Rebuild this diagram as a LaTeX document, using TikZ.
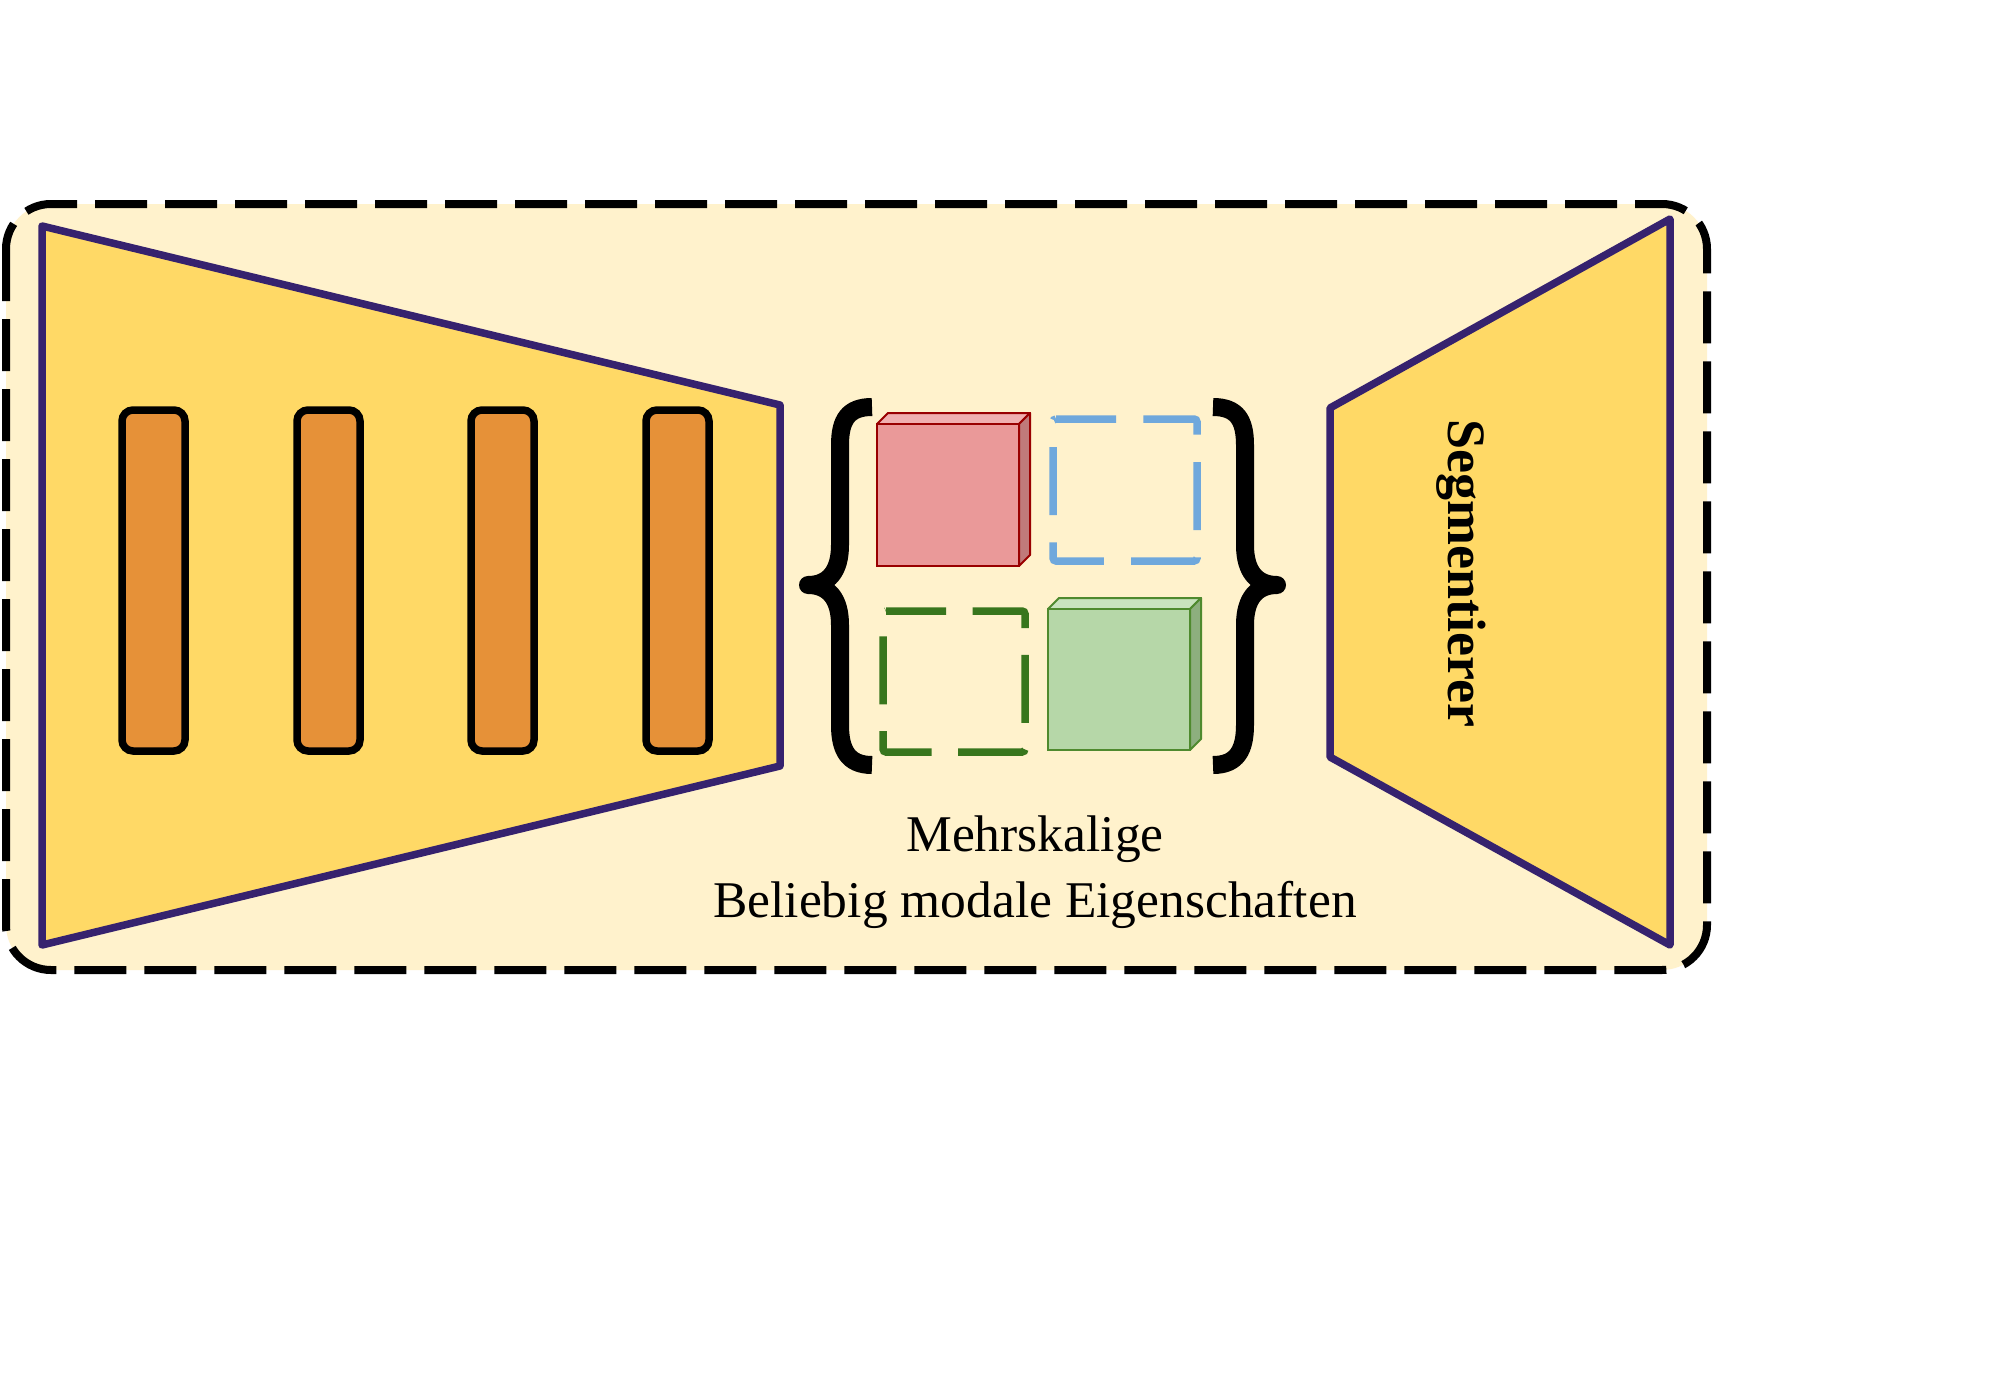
\documentclass[tikz,border=0pt]{standalone}
\usepackage{fontspec}
\setmainfont{Liberation Serif}
\begin{document}
\begin{tikzpicture}[x=1pt,y=-1pt,
  trap/.style={draw=trapline,fill=trapfill,line width=7.5pt,line join=round},
  bar/.style={draw=black,fill=barfill,line width=7.5pt,rounded corners=11pt},
  brace/.style={draw=black,line width=18pt,line join=round},
  dbox/.style={line width=7.5pt,rounded corners=3pt},
  lbl/.style={font=\fontsize{51.5pt}{60pt}\selectfont,inner sep=0pt,anchor=base}]
\definecolor{cream}{HTML}{FFF2CC}
\definecolor{trapfill}{HTML}{FFD966}
\definecolor{trapline}{HTML}{36226E}
\definecolor{barfill}{HTML}{E69138}
\definecolor{redf}{HTML}{EA9999}
\definecolor{redt}{HTML}{F0B0B0}
\definecolor{reds}{HTML}{C07A7A}
\definecolor{redl}{HTML}{990000}
\definecolor{grnf}{HTML}{B6D7A8}
\definecolor{grnt}{HTML}{C9E3BE}
\definecolor{grns}{HTML}{8DAF7E}
\definecolor{grnl}{HTML}{4F8A2E}
\definecolor{bluedash}{HTML}{6FA8DC}
\definecolor{greendash}{HTML}{38761D}
\useasboundingbox[fill=white] (0,0) rectangle (1998,1400);
% outer dashed container
\draw[fill=cream,line width=8pt,dash pattern=on 52pt off 18pt,rounded corners=45pt] (6,204) rectangle (1707,970);
% encoder trapezoid
\draw[trap] (42,226) -- (780,405) -- (780,766) -- (42,945) -- cycle;
% bars
\foreach \x in {122,297,471,646}
  \draw[bar] (\x,410) rectangle ++(63,341);
% braces
\draw[brace] (872,407) .. controls (848,407) and (840,420) .. (840,445) -- (840,545) .. controls (840,572) and (828,585) .. (808,585)
  .. controls (828,585) and (840,598) .. (840,625) -- (840,725) .. controls (840,750) and (848,765) .. (872,765);
\draw[brace] (1213,407) .. controls (1237,407) and (1245,420) .. (1245,445) -- (1245,545) .. controls (1245,572) and (1257,585) .. (1277,585)
  .. controls (1257,585) and (1245,598) .. (1245,625) -- (1245,725) .. controls (1245,750) and (1237,765) .. (1213,765);
% red cube
\draw[draw=redl,fill=redt,line width=2pt,line join=round] (877,424) -- (888,413) -- (1030,413) -- (1019,424) -- cycle;
\draw[draw=redl,fill=reds,line width=2pt,line join=round] (1019,424) -- (1030,413) -- (1030,555) -- (1019,566) -- cycle;
\draw[draw=redl,fill=redf,line width=2pt] (877,424) rectangle (1019,566);
% blue dashed
\draw[dbox,draw=bluedash,dash pattern=on 68pt off 27.33pt,dash phase=8pt] (1053,419) -- (1197,419) -- (1197,561) -- (1053,561) -- cycle;
% green dashed
\draw[dbox,draw=greendash,dash pattern=on 68pt off 26.67pt,dash phase=8pt] (883,611) -- (1025,611) -- (1025,752) -- (883,752) -- cycle;
% green cube
\draw[draw=grnl,fill=grnt,line width=2pt,line join=round] (1048,609) -- (1059,598) -- (1201,598) -- (1190,609) -- cycle;
\draw[draw=grnl,fill=grns,line width=2pt,line join=round] (1190,609) -- (1201,598) -- (1201,739) -- (1190,750) -- cycle;
\draw[draw=grnl,fill=grnf,line width=2pt] (1048,609) rectangle (1190,750);
% decoder trapezoid
\draw[trap] (1330,408) -- (1670,219) -- (1670,945) -- (1330,757) -- cycle;
\node[font=\fontsize{54pt}{60pt}\selectfont\bfseries,rotate=-90,inner sep=0pt] (seg) at (1461,573) {Segmentierer};
% caption
\node[lbl] (cap1) at (1035,851) {Mehrskalige};
\node[lbl] (cap2) at (1035,917) {Beliebig modale Eigenschaften};
\end{tikzpicture}
\end{document}
